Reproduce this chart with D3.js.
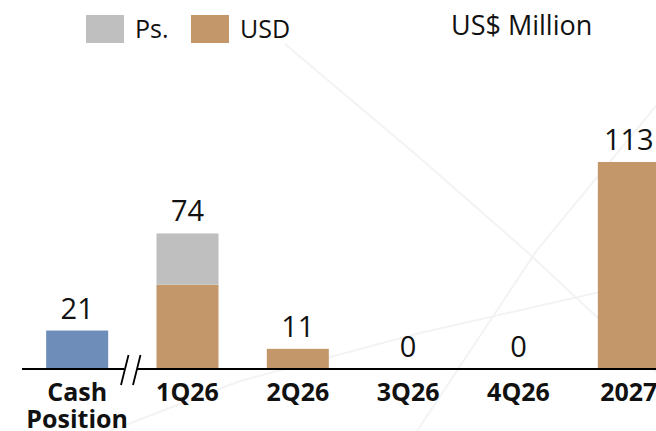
<!DOCTYPE html>
<html>
<head>
<meta charset="utf-8">
<script src="https://cdn.jsdelivr.net/npm/d3@7/dist/d3.min.js"></script>
<style>
  html, body { margin: 0; padding: 0; background: #fff; overflow: hidden; }
  svg { display: block; font-family: "Open Sans", "Noto Sans", sans-serif; }
</style>
</head>
<body>
<svg id="chart" width="656" height="431"></svg>
<script>
// Categories and series (US$ million)
const categories = ["Cash Position", "1Q26", "2Q26", "3Q26", "4Q26", "2027"];
const cashValues = [21, 0, 0, 0, 0, 0];
const usdValues  = [0, 46, 11, 0, 0, 113];
const psValues   = [0, 28, 0, 0, 0, 0];
const totalLabels = ["21", "74", "11", "0", "0", "113"];

const legendItems = [
  { key: "ps",  label: "Ps." },
  { key: "usd", label: "USD" }
];
const unitLabel = "US$ Million";

const colors = { cash: "#6E8DB9", usd: "#C3976A", ps: "#BFBFBF" };

const svg = d3.select("#chart");
const W = 656, H = 431;

// faint decorative strokes in the background
const decoLines = [
  [[285, 44], [420, 158], [525, 250], [656, 372]],
  [[110, 431], [240, 381], [420, 333], [600, 292], [656, 281]],
  [[417, 431], [537, 250], [656, 106]]
];
svg.append("g")
  .selectAll("path")
  .data(decoLines)
  .join("path")
  .attr("d", d3.line())
  .attr("fill", "none")
  .attr("stroke", "#f3f3f3")
  .attr("stroke-width", 2);

const baseY = 369;
const x = d3.scaleBand()
  .domain(categories)
  .range([22, 684])
  .paddingInner(0.438)
  .paddingOuter(0.219);

const y = d3.scaleLinear()
  .domain([0, 113])
  .range([baseY, 162]);

// stacked series
const rows = categories.map((c, i) => ({
  cat: c, cash: cashValues[i], usd: usdValues[i], ps: psValues[i]
}));
const stack = d3.stack().keys(["cash", "usd", "ps"]);
const series = stack(rows);

svg.append("g")
  .selectAll("g")
  .data(series)
  .join("g")
  .attr("fill", d => colors[d.key])
  .selectAll("rect")
  .data(d => d.filter(p => p[1] - p[0] > 0))
  .join("rect")
  .attr("x", d => x(d.data.cat))
  .attr("width", x.bandwidth())
  .attr("y", d => y(d[1]))
  .attr("height", d => y(d[0]) - y(d[1]));

// value labels above each column
svg.append("g")
  .selectAll("text")
  .data(rows)
  .join("text")
  .attr("x", d => x(d.cat) + x.bandwidth() / 2)
  .attr("y", d => y(d.cash + d.usd + d.ps) - 12)
  .attr("text-anchor", "middle")
  .attr("font-size", 29)
  .attr("fill", "#111")
  .text((d, i) => totalLabels[i]);

// baseline with a break between cash and the schedule
const breakL = 124, breakR = 137;
const axisG = svg.append("g").attr("stroke", "#000").attr("stroke-width", 2.2);
axisG.append("line").attr("x1", 22).attr("x2", breakL).attr("y1", baseY).attr("y2", baseY);
axisG.append("line").attr("x1", breakR).attr("x2", W).attr("y1", baseY).attr("y2", baseY);
axisG.append("line").attr("x1", 121).attr("y1", 385).attr("x2", 128.5).attr("y2", 355).attr("stroke-width", 1.8);
axisG.append("line").attr("x1", 133).attr("y1", 385).attr("x2", 140.5).attr("y2", 355).attr("stroke-width", 1.8);

// category labels
const catG = svg.append("g")
  .attr("font-size", 25)
  .attr("font-weight", "bold")
  .attr("fill", "#111")
  .attr("text-anchor", "middle");
categories.forEach(c => {
  const words = c.split(" ");
  const t = catG.append("text")
    .attr("x", x(c) + x.bandwidth() / 2)
    .attr("y", 401);
  words.forEach((w, k) => {
    t.append("tspan")
      .attr("x", x(c) + x.bandwidth() / 2)
      .attr("dy", k === 0 ? 0 : 27)
      .text(w);
  });
});

// legend
const legend = svg.append("g");
const legendX = [86, 191];
legendItems.forEach((it, i) => {
  legend.append("rect")
    .attr("x", legendX[i]).attr("y", 15)
    .attr("width", 38).attr("height", 28)
    .attr("fill", colors[it.key]);
  legend.append("text")
    .attr("x", legendX[i] + 49).attr("y", 38)
    .attr("font-size", 25)
    .attr("fill", "#111")
    .text(it.label);
});

svg.append("text")
  .attr("x", 451).attr("y", 35)
  .attr("font-size", 27)
  .attr("fill", "#111")
  .text(unitLabel);
</script>
</body>
</html>
